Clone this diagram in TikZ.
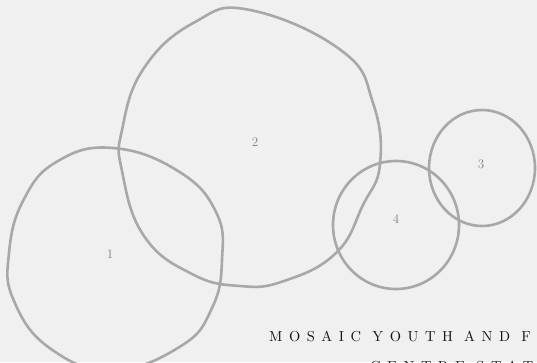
\documentclass[tikz,border=0pt]{standalone}
\usepackage{fontspec}
\usetikzlibrary{positioning}
\definecolor{bgGrey}{RGB}{240,240,240}
\definecolor{ringGrey}{RGB}{168,168,168}
\definecolor{numGrey}{RGB}{128,128,128}
\definecolor{txtDark}{RGB}{20,20,20}
\newfontfamily\trackfont[LetterSpace=45]{lmroman10-regular.otf}
\begin{document}
\begin{tikzpicture}[x=1pt,y=-1pt,
  ring/.style={draw=ringGrey,line width=2.6pt,line join=round},
  num/.style={text=numGrey,font=\fontsize{13}{13}\selectfont,inner sep=0pt},
  ttl/.style={text=txtDark,anchor=base west,inner sep=0pt,
    font=\trackfont\fontsize{14.5}{16}\selectfont}]
\fill[bgGrey] (0,0) rectangle (537,362);
\useasboundingbox (0,0) rectangle (537,362);
% rings
\draw[ring] plot[smooth cycle,tension=0.75] coordinates {(113,148) (178,171) (216,212) (222,260) (212,308) (181,346) (113,370) (51,349) (14,301) (9,253) (24,199) (58,161)};
\draw[ring] plot[smooth cycle,tension=0.75] coordinates {(250,10) (342,51) (373,103) (380,164) (363,205) (336,253) (284,281) (240,286) (192,274) (144,236) (122,171) (122,130) (144,68) (195,22)};
\draw[ring] (482,168) ellipse [x radius=53,y radius=58];
\draw[ring] (396,225) ellipse [x radius=63,y radius=64];
% numbers
\node[num] (n1) at (110,254) {1};
\node[num] (n2) at (255,142) {2};
\node[num] (n3) at (481,164) {3};
\node[num] (n4) at (396,219) {4};
% title
\node[ttl] (t1) at (269,341) {MOSAIC YOUTH AND F};
\node[ttl] (t2) at (370,371) {CENTRE STAT};
\end{tikzpicture}
\end{document}
